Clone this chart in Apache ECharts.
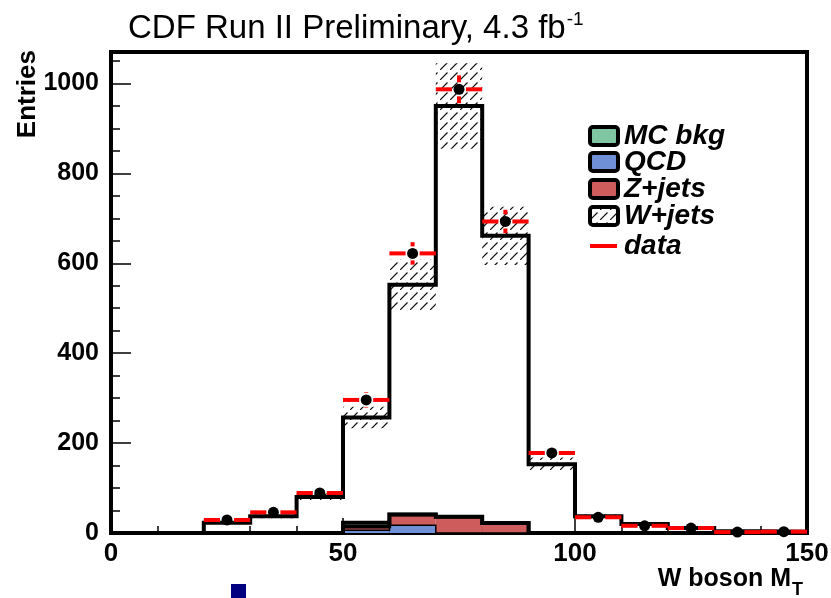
<!DOCTYPE html>
<html>
<head>
<meta charset="utf-8">
<script src="https://cdn.jsdelivr.net/npm/echarts@6/dist/echarts.min.js"></script>
<style>
  html, body { margin: 0; padding: 0; background: #fff; }
  #chart { width: 831px; height: 598px; }
</style>
</head>
<body>
<div id="chart"></div>
<script>
// Bin edges of the transverse-mass histogram (10 GeV bins)
const binEdges = [0, 10, 20, 30, 40, 50, 60, 70, 80, 90, 100, 110, 120, 130, 140, 150];

// Expected W+jets (total prediction) and its systematic band half-width
const wjets    = [0, 0, 23, 37, 80, 257, 552, 950, 661, 153, 37, 20, 11, 4, 3];
const wjetsErr = [0, 0, 2, 4, 8, 24, 56, 95, 65, 15, 4, 2, 1, 0.4, 0.3];

// Background components (stacked from the bottom: QCD, Z+jets, MC bkg)
const qcd   = [0, 0, 0, 0, 0, 6, 17, 0, 0, 0, 0, 0, 0, 0, 0];
const zjets = [0, 0, 0, 0, 0, 8, 24, 36, 22, 0, 0, 0, 0, 0, 0];
const mcBkg = [0, 0, 0, 0, 0, 9, 0, 0, 0, 0, 0, 0, 0, 0, 0];

// Observed events and statistical errors
const dataCounts = [null, null, 29, 46, 89, 296, 622, 987, 693, 178, 35, 16, 11, 2, 3];
const dataErr    = [0, 0, 5, 7, 9, 17, 25, 31, 26, 13, 6, 4, 3, 1.4, 1.7];

// Axis ticks
const xTicks = [0, 50, 100, 150];
const yTicks = [0, 200, 400, 600, 800, 1000];

const FONT = '"Liberation Sans", Arial, Helvetica, sans-serif';
const Y_MAX = 1070;

const COLORS = { mc: '#80c6a3', qcd: '#6f90d6', z: '#cf5c5c' };

// Diagonal hatch tile for the W+jets uncertainty band
function makeHatch(stroke) {
  const c = document.createElement('canvas');
  c.width = 10; c.height = 10;
  const g = c.getContext('2d');
  g.strokeStyle = stroke;
  g.lineWidth = 1.2;
  g.beginPath();
  g.moveTo(0, 10);
  g.lineTo(7.5, 2.5);
  g.stroke();
  return c;
}
const hatch = { image: makeHatch('#111'), repeat: 'repeat' };

// Histogram outline points (lower edge of each bin, plus the closing edge)
function stepPoints(vals) {
  const pts = vals.map((v, i) => [binEdges[i], v]);
  pts.push([binEdges[binEdges.length - 1], vals[vals.length - 1]]);
  return pts;
}

// Running tops of the background stack
const qcdTop = qcd.slice();
const zTop = qcd.map((v, i) => v + zjets[i]);
const bkgTop = zTop.map((v, i) => v + mcBkg[i]);

const bandItems = wjets.map((v, i) => [binEdges[i], binEdges[i + 1], v - wjetsErr[i], v + wjetsErr[i]]);
const bkgItems = qcd.map((v, i) => [binEdges[i], binEdges[i + 1], qcd[i], zjets[i], mcBkg[i]]);
const dataItems = dataCounts
  .map((v, i) => v == null ? null : [binEdges[i], binEdges[i + 1], v, dataErr[i]])
  .filter(d => d !== null);

function measure(text, font) {
  const c = document.createElement('canvas').getContext('2d');
  c.font = font;
  return c.measureText(text).width;
}

const chart = echarts.init(document.getElementById('chart'), null, { renderer: 'canvas' });

const titleMain = 'CDF Run II Preliminary, 4.3 fb';
const titleFont = '33px ' + FONT;
const titleW = measure(titleMain, titleFont);

const xName = 'W boson M';
const xNameFont = 'bold 25px ' + FONT;
const xNameW = measure(xName, xNameFont);
const xNameRight = 791;

const legendFont = 'italic bold 28px ' + FONT;
const legendItems = [
  { name: 'MC bkg', fill: COLORS.mc,  y: 136 },
  { name: 'QCD',    fill: COLORS.qcd, y: 162 },
  { name: 'Z+jets', fill: COLORS.z,   y: 189 },
  { name: 'W+jets', fill: hatch,      y: 216 }
];

const graphics = [];
// Title with superscript
graphics.push({
  type: 'text', x: 128, y: 29, z: 10,
  style: { text: titleMain, font: titleFont, fill: '#000', textAlign: 'left', textVerticalAlign: 'middle' }
});
graphics.push({
  type: 'text', x: 128 + titleW + 1, y: 20, z: 10,
  style: { text: '-1', font: '19px ' + FONT, fill: '#000', textAlign: 'left', textVerticalAlign: 'middle' }
});
// Axis titles
graphics.push({
  type: 'text', x: 28, y: 50, rotation: Math.PI / 2, z: 10,
  style: { text: 'Entries', font: 'bold 26px ' + FONT, fill: '#000', textAlign: 'right', textVerticalAlign: 'middle' }
});
graphics.push({
  type: 'text', x: xNameRight - xNameW, y: 579, z: 10,
  style: { text: xName, font: xNameFont, fill: '#000', textAlign: 'left', textVerticalAlign: 'middle' }
});
graphics.push({
  type: 'text', x: xNameRight + 1, y: 590, z: 10,
  style: { text: 'T', font: 'bold 18px ' + FONT, fill: '#000', textAlign: 'left', textVerticalAlign: 'middle' }
});
// Legend
legendItems.forEach(it => {
  if (it.fill === hatch) {
    graphics.push({
      type: 'rect', z: 10,
      shape: { x: 590, y: it.y - 9, width: 28, height: 18, r: 3 },
      style: { fill: '#fff', stroke: null }
    });
  }
  graphics.push({
    type: 'rect', z: 11,
    shape: { x: 590, y: it.y - 9, width: 28, height: 18, r: 3 },
    style: { fill: it.fill, stroke: '#000', lineWidth: 4 }
  });
  graphics.push({
    type: 'text', x: 624, y: it.y, z: 11,
    style: { text: it.name, font: legendFont, fill: '#000', textAlign: 'left', textVerticalAlign: 'middle' }
  });
});
graphics.push({
  type: 'line', z: 11,
  shape: { x1: 590, y1: 246, x2: 617, y2: 246 },
  style: { stroke: '#ff0000', lineWidth: 4 }
});
graphics.push({
  type: 'text', x: 624, y: 246, z: 11,
  style: { text: 'data', font: legendFont, fill: '#000', textAlign: 'left', textVerticalAlign: 'middle' }
});
// Small marker below the axis
graphics.push({
  type: 'rect', z: 11,
  shape: { x: 231, y: 584, width: 15, height: 14 },
  style: { fill: '#000080' }
});

const outline = (name, vals, width, z) => ({
  name, type: 'line', step: 'end', z, silent: true,
  data: stepPoints(vals), symbol: 'none',
  lineStyle: { color: '#000', width, join: 'miter' }
});

const option = {
  animation: false,
  backgroundColor: '#fff',
  grid: {
    left: 111, top: 52, right: 24, bottom: 65,
    show: true, borderColor: '#000', borderWidth: 4, backgroundColor: 'transparent',
    containLabel: false, outerBoundsMode: 'none'
  },
  xAxis: {
    type: 'value', min: xTicks[0], max: xTicks[xTicks.length - 1], interval: 50,
    axisLine: { show: true, onZero: false, lineStyle: { color: '#000', width: 4 } },
    axisTick: { show: true, inside: true, length: 15, lineStyle: { color: '#000', width: 1.5 } },
    minorTick: { show: true, splitNumber: 5, length: 7, lineStyle: { color: '#000', width: 1.5 } },
    splitLine: { show: false },
    axisLabel: {
      margin: 8, color: '#000', fontFamily: FONT, fontSize: 26, fontWeight: 'bold',
      customValues: xTicks
    }
  },
  yAxis: [
    {
      type: 'value', min: yTicks[0], max: Y_MAX, interval: 200,
      axisLine: { show: true, onZero: false, lineStyle: { color: '#000', width: 4 } },
      axisTick: { show: true, inside: true, length: 20, lineStyle: { color: '#000', width: 1.5 } },
      splitLine: { show: false },
      axisLabel: {
        margin: 12, color: '#000', fontFamily: FONT, fontSize: 25, fontWeight: 'bold',
        showMaxLabel: false,
        formatter: v => (yTicks.indexOf(v) >= 0 ? String(v) : '')
      }
    },
    {
      type: 'value', min: 0, max: Y_MAX, interval: 50, position: 'left',
      axisLine: { show: false },
      axisTick: { show: true, inside: true, length: 9, lineStyle: { color: '#000', width: 1.5 } },
      axisLabel: { show: false },
      splitLine: { show: false }
    }
  ],
  graphic: graphics,
  series: [
    {
      name: 'W+jets band', type: 'custom', z: 1, silent: true,
      data: bandItems,
      encode: { x: [0, 1], y: [2, 3] },
      renderItem: (params, api) => {
        const p0 = api.coord([api.value(0), api.value(3)]);
        const p1 = api.coord([api.value(1), api.value(2)]);
        return {
          type: 'rect',
          shape: { x: p0[0], y: p0[1], width: p1[0] - p0[0], height: p1[1] - p0[1] },
          style: { fill: hatch, stroke: null }
        };
      }
    },
    outline('W+jets', wjets, 4, 2),
    {
      name: 'backgrounds', type: 'custom', z: 3, silent: true,
      data: bkgItems,
      encode: { x: [0, 1], y: [2, 3, 4] },
      renderItem: (params, api) => {
        const lo = api.value(0), hi = api.value(1);
        const parts = [[api.value(2), COLORS.qcd], [api.value(3), COLORS.z], [api.value(4), COLORS.mc]];
        let base = 0;
        const children = [];
        parts.forEach(([v, color]) => {
          if (v > 0) {
            const a = api.coord([lo, base + v]);
            const b = api.coord([hi, base]);
            children.push({
              type: 'rect',
              shape: { x: a[0], y: a[1], width: b[0] - a[0], height: b[1] - a[1] },
              style: { fill: color, stroke: null }
            });
            base += v;
          }
        });
        return { type: 'group', children };
      }
    },
    outline('QCD', qcdTop, 1.5, 4),
    outline('Z+jets', zTop, 3.5, 4),
    outline('MC bkg', bkgTop, 4, 4),
    {
      name: 'data', type: 'custom', z: 5, silent: true,
      data: dataItems,
      encode: { x: [0, 1], y: 2 },
      renderItem: (params, api) => {
        const lo = api.value(0), hi = api.value(1), v = api.value(2), e = api.value(3);
        const pl = api.coord([lo, v]);
        const pr = api.coord([hi, v]);
        const xc = (pl[0] + pr[0]) / 2, yc = pl[1];
        const pTop = api.coord([lo, v + e]);
        const pBot = api.coord([lo, Math.max(v - e, 0)]);
        const r = 5.5, gap = r + 1.5;
        const red = { stroke: '#ff0000', lineWidth: 4 };
        const children = [
          { type: 'line', shape: { x1: pl[0], y1: yc, x2: xc - gap, y2: yc }, style: red },
          { type: 'line', shape: { x1: xc + gap, y1: yc, x2: pr[0], y2: yc }, style: red }
        ];
        if (yc - pTop[1] > gap) {
          children.push({ type: 'line', shape: { x1: xc, y1: pTop[1], x2: xc, y2: yc - gap }, style: red });
        }
        if (pBot[1] - yc > gap) {
          children.push({ type: 'line', shape: { x1: xc, y1: yc + gap, x2: xc, y2: pBot[1] }, style: red });
        }
        children.push({ type: 'circle', shape: { cx: xc, cy: yc, r }, style: { fill: '#000' } });
        return { type: 'group', children };
      }
    }
  ]
};

chart.setOption(option);
</script>
</body>
</html>
